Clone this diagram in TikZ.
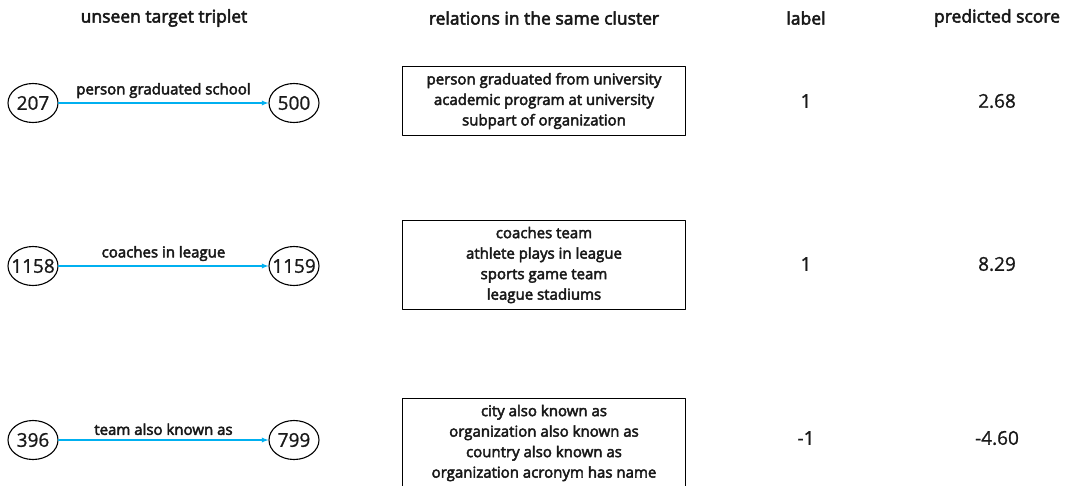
\documentclass[tikz,border=0pt]{standalone}
\usepackage{fontspec}
\setmainfont{Open Sans}[FakeBold=3]
\newfontfamily\plainfont{Open Sans}[FakeBold=1]
\usetikzlibrary{shapes.geometric}
\definecolor{arrowblue}{RGB}{0,176,240}
\definecolor{ink}{RGB}{25,25,25}
\begin{document}
\begin{tikzpicture}[x=1pt,y=-1pt,>=latex, font=\fontsize{15}{20.5}\selectfont, text=ink, line join=round, line cap=round]
	\def\xa{33} \def\xb{294} \def\xr{544} \def\xl{806} \def\xs{997} % Cột
	\useasboundingbox (0,0) rectangle (1078,485);
	\tikzset{ent/.style={draw, line width=1.1pt, ellipse, minimum width=50pt, minimum height=39pt, inner sep=0pt, font=\plainfont\fontsize{19}{19}\selectfont},
		rel/.style={draw, line width=1pt, minimum width=283pt, align=center, inner ysep=6pt},
		head/.style={font=\fontsize{17.5}{20}\selectfont},
		val/.style={font=\plainfont\fontsize{19}{19}\selectfont}}
	\node[head] (h1) at (164,18) {unseen target triplet};
	\node[head] (h2) at (\xr,18) {relations in the same cluster};
	\node[head] (h3) at (\xl,18) {label};
	\node[head] (h4) at (\xs,18) {predicted score};
	\foreach \i/\y/\h/\t/\r/\l/\s in {1/103/207/500/{person graduated school}/1/2.68,
		2/266/1158/1159/{coaches in league}/1/8.29,
		3/440/396/799/{team also known as}/-1/-4.60}
	{
		\node[ent] (h\i) at (\xa,\y) {\makebox[26pt]{\h}};
		\node[ent] (t\i) at (\xb,\y) {\makebox[26pt]{\t}};
		\draw[->, arrowblue, line width=1.3pt] (h\i) -- (t\i) node[midway, above=1pt, ink] {\r};
		\node[val] (l\i) at (\xl,\y-2) {\l};
		\node[val] (s\i) at (\xs,\y-2) {\s};
	}
	\node[rel] (c1) at (\xr,101) {person graduated from university\\academic program at university\\subpart of organization};
	\node[rel] (c2) at (\xr,265) {coaches team\\athlete plays in league\\sports game team\\league stadiums};
	\node[rel] (c3) at (\xr,443) {city also known as\\organization also known as\\country also known as\\organization acronym has name};
\end{tikzpicture}
\end{document}
